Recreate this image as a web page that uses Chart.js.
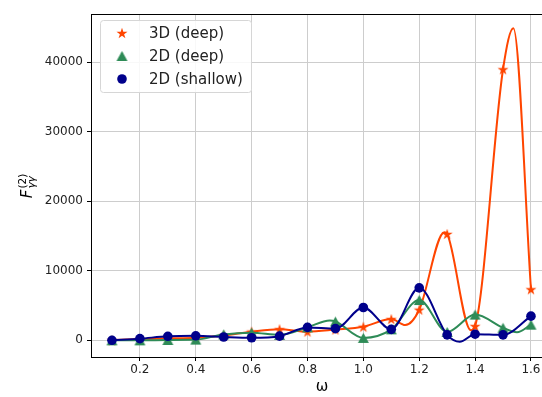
<!DOCTYPE html>
<html><head><meta charset="utf-8">
<script src="https://cdn.jsdelivr.net/npm/chart.js@4/dist/chart.umd.min.js"></script>
<style>html,body{margin:0;padding:0;background:#fff;}</style>
</head><body>
<canvas id="c" width="542" height="397"></canvas>
<script>
// ---- data ----
const omega = [0.1, 0.2, 0.3, 0.4, 0.5, 0.6, 0.7, 0.8, 0.9, 1.0, 1.1, 1.2, 1.3, 1.4, 1.5, 1.6];
const deep3D = [0, 190, 290, 380, 700, 1250, 1600, 1250, 1550, 1950, 3050, 4400, 15300, 2050, 39000, 7340];
const deep2D = [0, 0, 50, 100, 850, 1100, 780, 1870, 2700, 350, 1580, 5800, 1200, 3700, 1800, 2250];
const shallow2D = [0, 240, 575, 650, 480, 370, 600, 1860, 1680, 4720, 1580, 7550, 790, 880, 790, 3480];
// extra readings of the smooth curves between samples (peaks / dips seen in the picture)
const curveExtra3D = [[1.15, 2200], [1.29, 15550], [1.385, 1450], [1.537, 44900]];
const curveExtraDeep2D = [[0.88, 2850], [1.55, 1150]];
const curveExtraShallow2D = [[1.345, -200]];
const seriesNames = ['3D (deep)', '2D (deep)', '2D (shallow)'];
const xTicks = [0.2, 0.4, 0.6, 0.8, 1.0, 1.2, 1.4, 1.6];
const yTicks = [0, 10000, 20000, 30000, 40000];
const xLabel = 'ω';

const colors = ['#ff4500', '#2e8b57', '#00008b'];

function makeStar(color, R) {
  const s = Math.ceil(R * 2) + 2, c = document.createElement('canvas');
  c.width = s; c.height = s;
  const g = c.getContext('2d'); g.fillStyle = color; g.beginPath();
  const cx = s / 2, cy = s / 2 + R * 0.1, r = R * 0.381966;
  for (let i = 0; i < 10; i++) {
    const a = -Math.PI / 2 + i * Math.PI / 5, rr = i % 2 ? r : R;
    const px = cx + rr * Math.cos(a), py = cy + rr * Math.sin(a);
    i ? g.lineTo(px, py) : g.moveTo(px, py);
  }
  g.closePath(); g.fill(); return c;
}
function makeTri(color, w, h) {
  const c = document.createElement('canvas'); c.width = w + 2; c.height = h + 2;
  const g = c.getContext('2d'); g.fillStyle = color; g.beginPath();
  g.moveTo(1 + w / 2, 1); g.lineTo(1 + w, 1 + h); g.lineTo(1, 1 + h); g.closePath(); g.fill();
  return c;
}
const starImg = makeStar(colors[0], 5.8);
const triImg = makeTri(colors[1], 11, 10);

function pts(xs, ys) { return xs.map((x, i) => ({ x: x, y: ys[i] })); }
function curve(xs, ys, extra) {
  const p = pts(xs, ys);
  extra.forEach(e => p.push({ x: e[0], y: e[1] }));
  p.sort((a, b) => a.x - b.x);
  return p;
}

Chart.defaults.font.family = 'DejaVu Sans';
Chart.defaults.color = '#222';

const curveBase = { borderWidth: 2, pointRadius: 0, cubicInterpolationMode: 'monotone', fill: false };
const markerBase = { showLine: false, pointBorderWidth: 0, pointHoverRadius: 0 };
const noPad = () => ({ left: 0, top: 0, right: 0, bottom: 0 });

const extras = {
  id: 'extras',
  afterDraw(chart) {
    const ctx = chart.ctx, a = chart.chartArea;
    ctx.save();
    // top spine
    ctx.strokeStyle = '#000'; ctx.lineWidth = 1;
    ctx.beginPath(); ctx.moveTo(a.left, a.top + 0.5); ctx.lineTo(a.right, a.top + 0.5); ctx.stroke();
    // x label (axis continues past the cropped right edge, so centre as in the reference)
    ctx.fillStyle = '#000'; ctx.font = '15px DejaVu Sans'; ctx.textAlign = 'center'; ctx.textBaseline = 'middle';
    ctx.fillText(xLabel, 322, 387);
    ctx.textAlign = 'left';
    // y label F^(2)_γγ
    ctx.translate(32, 186); ctx.rotate(-Math.PI / 2);
    ctx.textBaseline = 'alphabetic';
    ctx.font = 'italic 15px DejaVu Sans';
    const fW = ctx.measureText('F').width;
    ctx.font = '10.5px DejaVu Sans';
    const supW = ctx.measureText('(2)').width;
    ctx.font = 'italic 10.5px DejaVu Sans';
    const subW = ctx.measureText('γγ').width;
    const total = fW + 1 + Math.max(supW, subW);
    let x0 = -total / 2;
    ctx.font = 'italic 15px DejaVu Sans'; ctx.fillText('F', x0, 0);
    ctx.font = '10.5px DejaVu Sans'; ctx.fillText('(2)', x0 + fW + 1, -6.5);
    ctx.font = 'italic 10.5px DejaVu Sans'; ctx.fillText('γγ', x0 + fW + 1, 3);
    ctx.restore();
    // legend
    ctx.save();
    const bx = 100.5, by = 20.5, bw = 151, bh = 72;
    ctx.fillStyle = 'rgba(255,255,255,0.85)'; ctx.strokeStyle = '#d6d6d6'; ctx.lineWidth = 1;
    ctx.beginPath(); ctx.roundRect(bx, by, bw, bh, 3); ctx.fill(); ctx.stroke();
    const rows = [33, 56, 79];
    ctx.drawImage(starImg, 122 - starImg.width / 2, rows[0] - starImg.height / 2);
    ctx.drawImage(triImg, 122 - triImg.width / 2, rows[1] - triImg.height / 2);
    ctx.fillStyle = colors[2]; ctx.beginPath(); ctx.arc(122, rows[2], 4.8, 0, Math.PI * 2); ctx.fill();
    ctx.fillStyle = '#222'; ctx.font = '15px DejaVu Sans'; ctx.textBaseline = 'middle';
    seriesNames.forEach((n, i) => ctx.fillText(n, 149, rows[i] + 1));
    ctx.restore();
  }
};

new Chart(document.getElementById('c'), {
  type: 'line',
  data: {
    datasets: [
      Object.assign({ label: seriesNames[0] + ' curve', data: curve(omega, deep3D, curveExtra3D), borderColor: colors[0], order: 6 }, curveBase),
      Object.assign({ label: seriesNames[0], data: pts(omega, deep3D), pointStyle: starImg, pointRadius: 6, pointBackgroundColor: colors[0], borderColor: colors[0], order: 5 }, markerBase),
      Object.assign({ label: seriesNames[1] + ' curve', data: curve(omega, deep2D, curveExtraDeep2D), borderColor: colors[1], order: 4 }, curveBase),
      Object.assign({ label: seriesNames[1], data: pts(omega, deep2D), pointStyle: triImg, pointRadius: 6, pointBackgroundColor: colors[1], borderColor: colors[1], order: 3 }, markerBase),
      Object.assign({ label: seriesNames[2] + ' curve', data: curve(omega, shallow2D, curveExtraShallow2D), borderColor: colors[2], order: 2 }, curveBase),
      Object.assign({ label: seriesNames[2], data: pts(omega, shallow2D), pointStyle: 'circle', pointRadius: 4.8, pointBackgroundColor: colors[2], borderColor: colors[2], order: 1 }, markerBase)
    ]
  },
  options: {
    responsive: false, animation: false, devicePixelRatio: 1,
    layout: { autoPadding: false, padding: { top: 14, left: 0, right: 0, bottom: 0 } },
    plugins: { legend: { display: false }, tooltip: { enabled: false } },
    scales: {
      x: {
        type: 'linear', min: 0.025, max: 1.6395,
        afterBuildTicks: s => { s.ticks = xTicks.map(v => ({ value: v })); },
        afterFit: s => { s.height = 40; s.paddingLeft = 0; s.paddingRight = 0; s.getPadding = noPad; },
        ticks: { callback: v => Number(v).toFixed(1), font: { size: 12 }, color: '#222', padding: 2, maxRotation: 0, autoSkip: false },
        grid: { color: '#cdcdcd', tickColor: '#000', tickLength: 4, lineWidth: 1 },
        border: { color: '#000', width: 1 }
      },
      y: {
        type: 'linear', min: -2400, max: 46950,
        afterBuildTicks: s => { s.ticks = yTicks.map(v => ({ value: v })); },
        afterFit: s => { s.width = 91; s.paddingTop = 0; s.paddingBottom = 0; s.getPadding = noPad; },
        ticks: { callback: v => String(v), font: { size: 12 }, color: '#222', padding: 4 },
        grid: { color: '#cdcdcd', tickColor: '#000', tickLength: 4, lineWidth: 1 },
        border: { color: '#000', width: 1 }
      }
    }
  },
  plugins: [extras]
});
</script>
</body></html>
